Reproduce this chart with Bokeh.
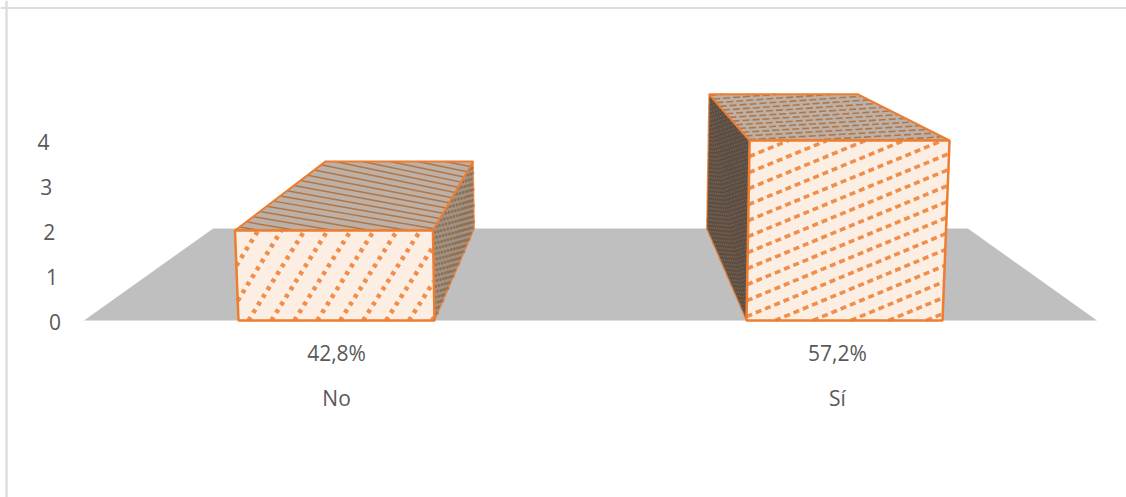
from bokeh.core.properties import value
from bokeh.embed import file_html
from bokeh.models import Range1d, Span
from bokeh.plotting import figure
from bokeh.resources import INLINE

# Chart data
categories = ["No", "Sí"]
shares = ["42,8%", "57,2%"]
counts = [2, 4]
y_ticks = [0, 1, 2, 3, 4]

# Perspective camera, all in page pixels
VANISH_X, VANISH_Y = 590.0, -41.0
BASE_Y = 320.0
UNIT = 45.0
BACK = 0.745
LEAN = 0.005
FLOOR_HALF = 506.5
BAR_CENTRES = [-254.0, 254.0]
BAR_HALF = 98.0

ORANGE = "#ED7D31"
TEXT = "#595959"
FONT = value("Open Sans")


def project(x, v, s=1.0):
    """World position (x across, v in value units, s depth scale) to the page."""
    px = VANISH_X + x * (1 + LEAN * v) * s
    py = VANISH_Y + (BASE_Y - UNIT * v - VANISH_Y) * s
    return px, py


def clip_stripe(a, b):
    """Clip the line u = a + b*t to the unit square; returns two (u, t) ends."""
    lo, hi = 0.0, 1.0
    if abs(b) < 1e-9:
        if not 0 <= a <= 1:
            return None
    else:
        t0, t1 = sorted(((0 - a) / b, (1 - a) / b))
        lo, hi = max(lo, t0), min(hi, t1)
    if hi <= lo:
        return None
    return (a + b * lo, lo), (a + b * hi, hi)


def stripes(corners, step, slant):
    """Parallel stripes across a four-cornered face, given in face coordinates."""
    p00, p10, p11, p01 = corners

    def at(u, t):
        x = (1 - u) * (1 - t) * p00[0] + u * (1 - t) * p10[0] + u * t * p11[0] + (1 - u) * t * p01[0]
        y = (1 - u) * (1 - t) * p00[1] + u * (1 - t) * p10[1] + u * t * p11[1] + (1 - u) * t * p01[1]
        return x, y

    xs, ys = [], []
    a = -abs(slant) - step
    while a < 1 + abs(slant) + step:
        ends = clip_stripe(a, slant)
        if ends:
            (u0, t0), (u1, t1) = ends
            x0, y0 = at(u0, t0)
            x1, y1 = at(u1, t1)
            xs.append([x0, x1])
            ys.append([y0, y1])
        a += step
    return xs, ys


p = figure(width=1126, height=497, output_backend="svg", toolbar_location=None,
           x_range=Range1d(0, 1126), y_range=Range1d(497, 0),
           min_border=0, outline_line_color=None, background_fill_color="white")
p.axis.visible = False
p.grid.visible = False

# Chart frame: only its top and left edges fall on the page
p.add_layout(Span(location=7.5, dimension="width", line_color="#DEDEDE", line_width=2))
p.add_layout(Span(location=6, dimension="height", line_color="#DEDEDE", line_width=2.5))

# Floor
floor = [project(-FLOOR_HALF, 0), project(FLOOR_HALF, 0),
         project(FLOOR_HALF, 0, BACK), project(-FLOOR_HALF, 0, BACK)]
p.patch([c[0] for c in floor], [c[1] for c in floor], fill_color="#BFBFBF", line_color=None)

# Per-bar stripe settings: (step, slant, width, dash)
front_style = [(0.117, 0.30, 4.6, "4 5"), (0.193, 2.17, 3.6, "6 4")]
top_style = [(0.075, -0.40, 1.5, "solid"), (0.08, 0.22, 1.6, "7 3")]
side_style = [(0.12, 0.9, 2.4, "3 3"), (0.07, 0.8, 1.5, "2 2")]
side_fill = ["#A09488", "#594E46"]
side_ink = ["#8E6645", "#7E6048"]
top_fill = "#BDB0A6"
top_ink = "#B0703C"

for centre, count, fs, ts, ss, sf, si in zip(BAR_CENTRES, counts, front_style, top_style,
                                             side_style, side_fill, side_ink):
    left, right = centre - BAR_HALF, centre + BAR_HALF
    side_x = right if centre < 0 else left

    front = [project(left, 0), project(right, 0), project(right, count), project(left, count)]
    top = [project(left, count), project(left, count, BACK),
           project(right, count, BACK), project(right, count)]
    side = [project(side_x, 0), project(side_x, count),
            project(side_x, count, BACK), project(side_x, 0, BACK)]

    # Side face
    p.patch([c[0] for c in side], [c[1] for c in side], fill_color=sf, line_color=None)
    xs, ys = stripes(side, ss[0], ss[1])
    p.multi_line(xs, ys, line_color=si, line_width=ss[2], line_dash=ss[3], line_alpha=0.8)
    p.patch([c[0] for c in side], [c[1] for c in side], fill_color=None,
            line_color=ORANGE, line_width=1.5, line_alpha=0.7)

    # Top face
    p.patch([c[0] for c in top], [c[1] for c in top], fill_color=top_fill, line_color=None)
    xs, ys = stripes(top, ts[0], ts[1])
    p.multi_line(xs, ys, line_color=top_ink, line_width=ts[2], line_dash=ts[3], line_alpha=0.9)
    p.patch([c[0] for c in top], [c[1] for c in top], fill_color=None,
            line_color=ORANGE, line_width=2)

    # Front face
    p.patch([c[0] for c in front], [c[1] for c in front], fill_color="#FDEEE3", line_color=None)
    xs, ys = stripes(front, fs[0], fs[1])
    p.multi_line(xs, ys, line_color=ORANGE, line_width=fs[2], line_dash=fs[3], line_alpha=0.85)
    p.patch([c[0] for c in front], [c[1] for c in front], fill_color=None,
            line_color=ORANGE, line_width=2.5)

# Value axis labels follow the left side of the leaning wall
p.text([54.5 - 2.9 * t for t in y_ticks], [BASE_Y + 1 - UNIT * t for t in y_ticks],
       text=[str(t) for t in y_ticks], text_font=FONT, text_font_size="21px",
       text_color=TEXT, text_align="center", text_baseline="middle")

# Category labels: percentage line above the name
label_x = [586.5 + c * 0.986 for c in BAR_CENTRES]
p.text(label_x, [352] * 2, text=shares, text_font=FONT, text_font_size="21px",
       text_color=TEXT, text_align="center", text_baseline="middle")
p.text(label_x, [397] * 2, text=categories, text_font=FONT, text_font_size="21px",
       text_color=TEXT, text_align="center", text_baseline="middle")

open("out.html", "w").write(file_html(p, INLINE))
